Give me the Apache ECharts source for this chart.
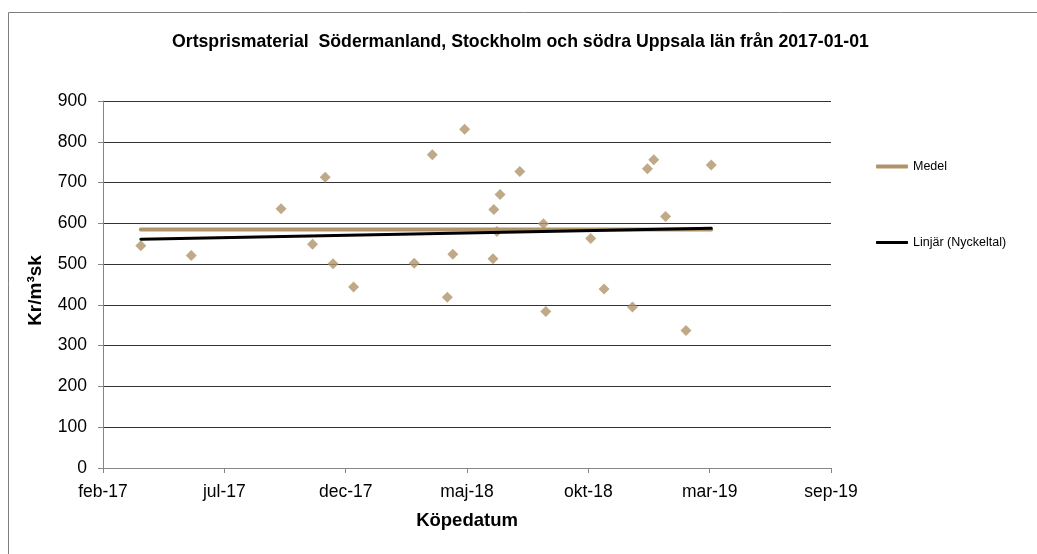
<!DOCTYPE html>
<html lang="sv">
    <head>
        <title>Ortsprismaterial</title>
        <meta charset="utf-8">
        <script src="https://cdn.jsdelivr.net/npm/echarts@6/dist/echarts.min.js"></script>
    </head>

    <style>
        html, body, #main {
            width: 100%;
            height: 100%;
            margin: 0;
            background: #fff;
        }
    </style>

    <body>
        <div id="main"></div>

        <script>
            const startDate = '2017-02-19';
            const monthNames = ['jan', 'feb', 'mar', 'apr', 'maj', 'jun', 'jul', 'aug', 'sep', 'okt', 'nov', 'dec'];

            const saleDates = [
                '2017-04-08', '2017-06-11', '2017-10-03', '2017-11-12', '2017-11-28',
                '2017-12-08', '2018-01-03', '2018-03-21', '2018-04-13', '2018-05-02',
                '2018-05-09', '2018-05-24', '2018-06-29', '2018-06-30', '2018-07-04',
                '2018-07-08', '2018-08-02', '2018-09-01', '2018-09-04', '2018-10-31',
                '2018-11-17', '2018-12-23', '2019-01-11', '2019-01-19', '2019-02-03',
                '2019-03-01', '2019-04-02'
            ];
            const pricePerM3 = [
                545, 521, 636, 549, 713,
                501, 444, 502, 768, 419,
                524, 831, 513, 634, 580,
                671, 727, 599, 384, 563,
                439, 395, 734, 756, 617,
                337, 743
            ];

            const medelValue = 585;
            const trendStart = 561;
            const trendEnd = 588;

            const DAY = 86400000;
            const dayOffset = s => (Date.parse(s) - Date.parse(startDate)) / DAY;

            const firstDay = dayOffset(saleDates[0]);
            const lastDay = dayOffset(saleDates[saleDates.length - 1]);

            const font = '"Liberation Sans", Arial, sans-serif';
            const tan = '#b09469';

            const chart = echarts.init(document.getElementById('main'));

            const option = {
                animation: false,
                textStyle: { fontFamily: font },
                title: {
                    text: 'Ortsprismaterial  Södermanland, Stockholm och södra Uppsala län från 2017-01-01',
                    left: 172,
                    top: 33,
                    padding: 0,
                    textStyle: { fontSize: 17.7, fontWeight: 'bold', color: '#000', fontFamily: font }
                },
                graphic: [{
                    type: 'rect',
                    shape: { x: 8.5, y: 12.5, width: 1100, height: 600 },
                    style: { fill: 'none', stroke: '#7f7f7f', lineWidth: 1 },
                    silent: true
                }],
                legend: [
                    {
                        data: [{ name: 'Medel', icon: 'roundRect' }],
                        left: 876, top: 160, padding: 0,
                        itemWidth: 32, itemHeight: 4,
                        textStyle: { fontSize: 12.5, color: '#000', fontFamily: font }
                    },
                    {
                        data: [{ name: 'Linjär (Nyckeltal)', icon: 'roundRect' }],
                        left: 876, top: 236, padding: 0,
                        itemWidth: 32, itemHeight: 3,
                        textStyle: { fontSize: 12.5, color: '#000', fontFamily: font }
                    }
                ],
                grid: { left: 103, right: 206, top: 101, bottom: 86 },
                xAxis: {
                    type: 'value',
                    min: 0,
                    max: 924,
                    interval: 154,
                    name: 'Köpedatum',
                    nameLocation: 'middle',
                    nameGap: 43,
                    nameTextStyle: { fontSize: 18.5, fontWeight: 'bold', color: '#000' },
                    axisLine: { lineStyle: { color: '#868686' } },
                    axisTick: { show: true, length: 5, lineStyle: { color: '#868686' } },
                    axisLabel: {
                        fontSize: 17.5, color: '#000', margin: 15,
                        formatter: v => {
                            const d = new Date(Date.parse(startDate) + v * DAY);
                            return monthNames[d.getUTCMonth()] + '-' + String(d.getUTCFullYear()).slice(2);
                        }
                    },
                    splitLine: { show: false }
                },
                yAxis: {
                    type: 'value',
                    min: 0,
                    max: 900,
                    interval: 100,
                    name: 'Kr/m³sk',
                    nameLocation: 'middle',
                    nameGap: 58,
                    nameTextStyle: { fontSize: 19, fontWeight: 'bold', color: '#000', padding: [0, 12, 0, 0] },
                    axisLine: { show: true, lineStyle: { color: '#868686' } },
                    axisTick: { show: true, length: 5, lineStyle: { color: '#868686' } },
                    axisLabel: { fontSize: 17.5, color: '#000', margin: 16 },
                    splitLine: { lineStyle: { color: '#333', width: 1 } }
                },
                series: [
                    {
                        name: 'Nyckeltal',
                        type: 'scatter',
                        symbol: 'diamond',
                        symbolSize: 11,
                        itemStyle: { color: tan },
                        data: saleDates.map((d, i) => [dayOffset(d), pricePerM3[i]])
                    },
                    {
                        name: 'Medel',
                        type: 'line',
                        symbol: 'none',
                        lineStyle: { color: tan, width: 4, cap: 'round' },
                        itemStyle: { color: tan },
                        data: [[firstDay, medelValue], [lastDay, medelValue]]
                    },
                    {
                        name: 'Linjär (Nyckeltal)',
                        type: 'line',
                        symbol: 'none',
                        lineStyle: { color: '#000', width: 3, cap: 'round' },
                        itemStyle: { color: '#000' },
                        data: [[firstDay, trendStart], [lastDay, trendEnd]]
                    }
                ]
            };

            chart.setOption(option);

            window.onresize = function () {
                chart.resize();
            }
        </script>
    </body>
</html>
